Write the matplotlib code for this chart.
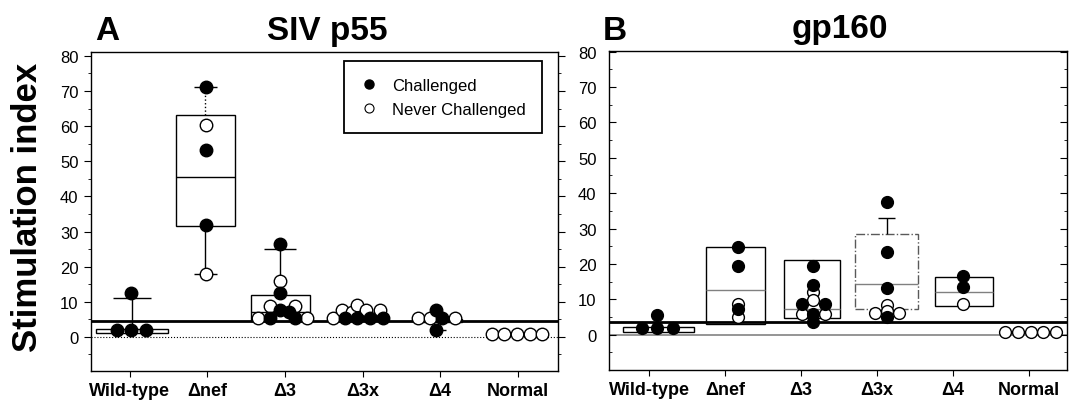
import matplotlib
matplotlib.use('Agg')
import matplotlib.pyplot as plt
from matplotlib.lines import Line2D
from matplotlib.ticker import MultipleLocator

plt.rcParams['font.family'] = ['Liberation Sans', 'DejaVu Sans']

cats = ['Wild-type', '\u0394nef', '\u03943', '\u03943x', '\u03944', 'Normal']

# ---- panel A: SIV p55 ----
a_cat = [0, 0, 0, 0,
         1, 1, 1, 1, 1,
         2, 2, 2, 2, 2, 2, 2, 2, 2, 2, 2,
         3, 3, 3, 3, 3, 3, 3, 3, 3, 3,
         4, 4, 4, 4, 4, 4,
         5, 5, 5, 5, 5]
a_val = [2.1, 2.1, 2.1, 12.5,
         71.0, 60.3, 53.1, 31.9, 17.9,
         26.4, 16.0, 12.6, 8.9, 8.9, 7.6, 7.0, 5.4, 5.4, 5.4, 5.4,
         5.3, 7.8, 5.3, 7.2, 9.1, 5.3, 7.8, 5.3, 7.8, 5.3,
         5.3, 5.3, 7.8, 5.3, 2.1, 5.3,
         0.8, 0.8, 0.8, 0.8, 0.8]
a_chal = [1, 1, 1, 1,
          1, 0, 1, 1, 0,
          1, 0, 1, 0, 0, 1, 1, 0, 1, 1, 0,
          0, 0, 1, 0, 0, 1, 0, 1, 0, 1,
          0, 0, 1, 1, 1, 0,
          0, 0, 0, 0, 0]
a_dx = [-0.17, 0.02, 0.21, 0.02,
        -0.02, -0.02, -0.02, -0.02, -0.02,
        -0.06, -0.06, -0.06, -0.19, 0.13, -0.06, 0.05, -0.35, -0.19, 0.13, 0.28,
        -0.38, -0.27, -0.23, -0.14, -0.07, -0.07, 0.05, 0.10, 0.22, 0.27,
        -0.28, -0.13, -0.05, 0.02, -0.05, 0.19,
        -0.33, -0.17, -0.01, 0.16, 0.31]
a_q1 = [1.05, 31.5, 4.6, None, 4.3, None]
a_med = [None, 45.5, 7.0, None, None, None]
a_q3 = [2.3, 63.2, 12.0, None, 5.0, None]
a_whi = [11.0, 71.0, 25.1, None, None, None]
a_wlo = [None, 18.0, None, None, 2.1, None]
a_cutoff = 4.5

# ---- panel B: gp160 ----
b_cat = [0, 0, 0, 0,
         1, 1, 1, 1, 1,
         2, 2, 2, 2, 2, 2, 2, 2, 2, 2,
         3, 3, 3, 3, 3, 3, 3, 3,
         4, 4, 4,
         5, 5, 5, 5, 5]
b_val = [1.9, 1.9, 1.9, 5.6,
         24.7, 19.3, 8.8, 7.3, 5.1,
         19.3, 14.1, 12.1, 9.8, 8.6, 8.6, 5.9, 5.9, 5.9, 3.5,
         37.4, 23.5, 13.1, 8.4, 6.6, 6.0, 6.0, 5.0,
         16.5, 13.4, 8.6,
         0.7, 0.7, 0.7, 0.7, 0.7]
b_chal = [1, 1, 1, 1,
          1, 1, 0, 1, 0,
          1, 1, 0, 0, 1, 1, 0, 0, 1, 1,
          1, 1, 1, 0, 0, 0, 0, 1,
          1, 1, 0,
          0, 0, 0, 0, 0]
b_dx = [-0.10, 0.10, 0.31, 0.10,
        0.17, 0.17, 0.17, 0.17, 0.17,
        0.16, 0.16, 0.16, 0.16, 0.01, 0.31, 0.01, 0.31, 0.16, 0.16,
        0.13, 0.13, 0.13, 0.13, 0.13, -0.03, 0.29, 0.13,
        0.135, 0.135, 0.135,
        -0.31, -0.14, 0.02, 0.18, 0.35]
b_q1 = [0.85, 3.0, 4.6, 7.3, 8.2, None]
b_med = [None, 12.7, 7.2, 14.3, 12.0, None]
b_q3 = [2.1, 24.7, 21.2, 28.5, 16.3, None]
b_whi = [None, None, None, 32.9, None, None]
b_wlo = [None, None, None, None, None, None]
b_cutoff = 3.6

# box geometry (offset of box centre, box width, cap width) in category units
a_box_dx = [0.03, -0.025, -0.06, 0, -0.03, 0]
a_box_w = [0.92, 0.75, 0.76, 0, 0.62, 0]
a_cap_w = [0.48, 0.30, 0.41, 0, 0.21, 0]
b_box_dx = [0.125, 0.135, 0.14, 0.125, 0.14, 0]
b_box_w = [0.93, 0.77, 0.74, 0.83, 0.76, 0]
b_cap_w = [0, 0, 0, 0.23, 0, 0]


def draw_boxes(ax, q1, med, q3, whi, wlo, box_dx, box_w, cap_w, med_color, box_ls):
    for i in range(len(cats)):
        x = i + box_dx[i]
        if q1[i] is not None:
            ls = box_ls[i]
            ax.bar(x, q3[i] - q1[i], bottom=q1[i], width=box_w[i],
                   facecolor='white', edgecolor='black' if ls == '-' else '0.35',
                   linewidth=1.0, linestyle=ls, zorder=2)
        if med[i] is not None:
            ax.hlines(med[i], x - box_w[i] / 2, x + box_w[i] / 2,
                      color=med_color, lw=1.0, zorder=2)
        if whi[i] is not None:
            ax.vlines(x, q3[i], whi[i], color='black', lw=1.0,
                      linestyle=':' if i == 1 else '-', zorder=2)
            ax.hlines(whi[i], x - cap_w[i] / 2, x + cap_w[i] / 2,
                      color='black', lw=1.0, zorder=2)
        if wlo[i] is not None:
            ax.vlines(x, wlo[i], q1[i], color='black', lw=1.0, zorder=2)
            ax.hlines(wlo[i], x - cap_w[i] / 2, x + cap_w[i] / 2,
                      color='black', lw=1.0, zorder=2)


def draw_points(ax, cat, val, chal, dx, ms):
    xs = [c + d for c, d in zip(cat, dx)]
    ox = [x for x, f in zip(xs, chal) if not f]
    oy = [v for v, f in zip(val, chal) if not f]
    fx = [x for x, f in zip(xs, chal) if f]
    fy = [v for v, f in zip(val, chal) if f]
    ax.plot(ox, oy, 'o', ms=ms, mfc='white', mec='black', mew=1.0, ls='', zorder=4)
    ax.plot(fx, fy, 'o', ms=ms, mfc='black', mec='black', mew=1.0, ls='', zorder=5)


def style_axis(ax, ylim, xlim, direction, pad):
    ax.set_xlim(*xlim)
    ax.set_ylim(*ylim)
    ax.set_xticks(range(len(cats)))
    ax.set_xticklabels(cats, fontweight='bold', fontsize=13)
    ax.set_yticks(range(0, 81, 10))
    ax.yaxis.set_minor_locator(MultipleLocator(5))
    ax.tick_params(axis='x', direction='out', length=4, pad=4)
    ax.tick_params(axis='y', which='major', direction=direction, length=5,
                   pad=pad, labelsize=12, left=True, right=True)
    ax.tick_params(axis='y', which='minor', direction=direction, length=2.5,
                   left=True, right=True)
    for s in ax.spines.values():
        s.set_linewidth(1.0)


fig = plt.figure(figsize=(10.72, 4.06), dpi=100)
axA = fig.add_axes([91 / 1072, 34 / 406, 467 / 1072, 319 / 406])
axB = fig.add_axes([609 / 1072, 35 / 406, 458 / 1072, 319 / 406])

# panel A
axA.axhline(0, color='black', lw=0.8, ls=':', zorder=1)
axA.axhline(a_cutoff, color='black', lw=2.0, zorder=3)
draw_boxes(axA, a_q1, a_med, a_q3, a_whi, a_wlo, a_box_dx, a_box_w, a_cap_w,
           'black', ['-', '-', '-', '-', '-', '-'])
draw_points(axA, a_cat, a_val, a_chal, a_dx, 9)
style_axis(axA, (-9.7, 81.1), (-0.5, 5.52), 'out', 4)

handles = [Line2D([], [], marker='o', ls='', ms=6.5, mfc='black', mec='black'),
           Line2D([], [], marker='o', ls='', ms=6.5, mfc='white', mec='black', mew=0.8)]
leg = axA.legend(handles, ['Challenged', 'Never Challenged'], loc='upper right',
                 bbox_to_anchor=(0.966, 0.972), fontsize=12, frameon=True,
                 fancybox=False, edgecolor='black', framealpha=1,
                 borderpad=1.0, handlelength=1.0, handletextpad=0.85,
                 labelspacing=0.55, borderaxespad=0)
leg.get_frame().set_linewidth(1.3)

# panel B
axB.axhline(0, color='0.55', lw=1.3, zorder=1)
axB.axhline(b_cutoff, color='black', lw=2.0, zorder=3)
draw_boxes(axB, b_q1, b_med, b_q3, b_whi, b_wlo, b_box_dx, b_box_w, b_cap_w,
           '0.5', ['-', '-', '-', '-.', '-', '-'])
draw_points(axB, b_cat, b_val, b_chal, b_dx, 8.5)
style_axis(axB, (-10.0, 80.2), (-0.53, 5.5), 'in', 9)

fig.text(28 / 1072, 0.49, 'Stimulation index', rotation=90, fontsize=25,
         fontweight='bold', ha='center', va='center')
fig.text(95 / 1072, 1 - 40 / 406, 'A', fontsize=24, fontweight='bold', va='baseline')
fig.text(327 / 1072, 1 - 40 / 406, 'SIV p55', fontsize=24, fontweight='bold',
         ha='center', va='baseline')
fig.text(603 / 1072, 1 - 40 / 406, 'B', fontsize=24, fontweight='bold', va='baseline')
fig.text(840 / 1072, 1 - 38 / 406, 'gp160', fontsize=24, fontweight='bold',
         ha='center', va='baseline')

fig.savefig('out.png', dpi=100)
